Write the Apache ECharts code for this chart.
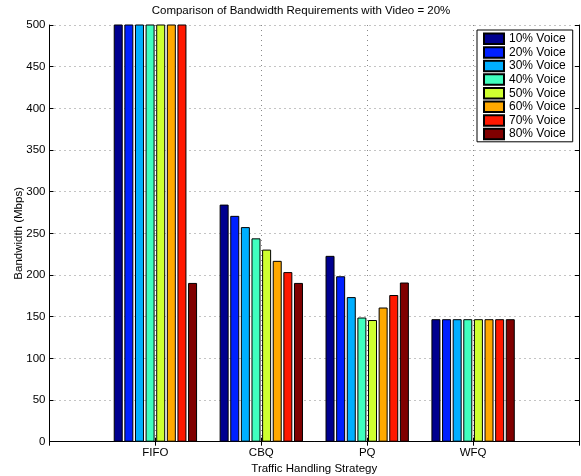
<!DOCTYPE html>
<html>
<head>
<meta charset="utf-8">
<script src="https://cdn.jsdelivr.net/npm/echarts@6/dist/echarts.min.js"></script>
<style>
html,body{margin:0;padding:0;background:#fff;}
#c{width:581px;height:476px;}
</style>
</head>
<body>
<div id="c"></div>
<script>
var categories = ['FIFO', 'CBQ', 'PQ', 'WFQ'];
var seriesNames = ['10% Voice', '20% Voice', '30% Voice', '40% Voice', '50% Voice', '60% Voice', '70% Voice', '80% Voice'];
var voice10 = [900, 284.5, 223, 147];
var voice20 = [850, 271, 198.5, 147];
var voice30 = [800, 257.5, 173.5, 147];
var voice40 = [750, 244, 149, 147];
var voice50 = [700, 230.5, 146, 147];
var voice60 = [650, 217, 161, 147];
var voice70 = [600, 203.5, 176, 147];
var voice80 = [190.5, 190.5, 191, 147];
var colors = ['#00008F', '#0020FF', '#00AFFF', '#40FFBF', '#CFFF30', '#FFA800', '#FF1800', '#800000'];
var yTicks = [0, 50, 100, 150, 200, 250, 300, 350, 400, 450, 500];

var allValues = [voice10, voice20, voice30, voice40, voice50, voice60, voice70, voice80];
var axisCats = [''].concat(categories).concat(['']);
var FONT = 'Liberation Sans, Arial, Helvetica, sans-serif';

var chart = echarts.init(document.getElementById('c'), null, {renderer: 'canvas'});
var series = allValues.map(function (vals, i) {
  return {
    name: seriesNames[i],
    type: 'bar',
    xAxisIndex: 0,
    yAxisIndex: 0,
    data: [null].concat(vals).concat([null]),
    barWidth: 9,
    barGap: '18%',
    clip: true,
    itemStyle: {color: colors[i], borderColor: '#000', borderWidth: 1},
    emphasis: {disabled: true},
    animation: false
  };
});

var dotted = {type: [1, 4], color: '#888', width: 1};

var option = {
  animation: false,
  title: {
    text: 'Comparison of Bandwidth Requirements with Video = 20%',
    left: 296, top: 0, textAlign: 'center',
    textStyle: {fontFamily: FONT, fontSize: 11.5, fontWeight: 'normal', color: '#000'}
  },
  grid: {left: 49.5, right: 2, top: 25, bottom: 34.3, containLabel: false, outerBoundsMode: 'none'},
  legend: {
    orient: 'vertical',
    left: 477, top: 30,
    padding: [2, 7, 1, 6],
    itemGap: 0,
    itemWidth: 20, itemHeight: 10.5,
    backgroundColor: '#fff',
    borderColor: '#000', borderWidth: 1, borderRadius: 0,
    icon: 'rect',
    data: seriesNames,
    textStyle: {fontFamily: FONT, fontSize: 12, color: '#000', lineHeight: 13.6, padding: [0,0,0,0]}
  },
  xAxis: [{
    type: 'category', data: axisCats, boundaryGap: false, position: 'bottom',
    name: 'Traffic Handling Strategy', nameLocation: 'middle', nameGap: 21, nameMoveOverlap: false,
    nameTextStyle: {fontFamily: FONT, fontSize: 11.5, color: '#000'},
    axisLine: {lineStyle: {color: '#000', width: 1}},
    axisTick: {inside: true, length: 4, lineStyle: {color: '#000'}},
    axisLabel: {fontFamily: FONT, fontSize: 11.5, color: '#000', margin: 5},
    splitLine: {show: true, lineStyle: dotted}
  }, {
    type: 'category', data: axisCats, boundaryGap: false, position: 'top',
    axisLine: {lineStyle: {color: '#000', width: 1}},
    axisTick: {inside: true, length: 4, lineStyle: {color: '#000'}},
    axisLabel: {show: false},
    splitLine: {show: false}
  }],
  yAxis: [{
    type: 'value', min: 0, max: 500, interval: 50, position: 'left',
    name: 'Bandwidth (Mbps)', nameLocation: 'middle', nameGap: 25, nameRotate: 90, nameMoveOverlap: false,
    nameTextStyle: {fontFamily: FONT, fontSize: 11.5, color: '#000'},
    axisLine: {show: true, lineStyle: {color: '#000', width: 1}},
    axisTick: {show: true, inside: true, length: 4, lineStyle: {color: '#000'}},
    axisLabel: {fontFamily: FONT, fontSize: 11.5, color: '#000', margin: 4,
      formatter: function (v) { return yTicks.indexOf(v) >= 0 ? String(v) : ''; }},
    splitLine: {show: true, lineStyle: dotted}
  }, {
    type: 'value', min: 0, max: 500, interval: 50, position: 'right',
    axisLine: {show: true, lineStyle: {color: '#000', width: 1}},
    axisTick: {show: true, inside: true, length: 4, lineStyle: {color: '#000'}},
    axisLabel: {show: false},
    splitLine: {show: false}
  }],
  series: series
};
chart.setOption(option);
</script>
</body>
</html>
